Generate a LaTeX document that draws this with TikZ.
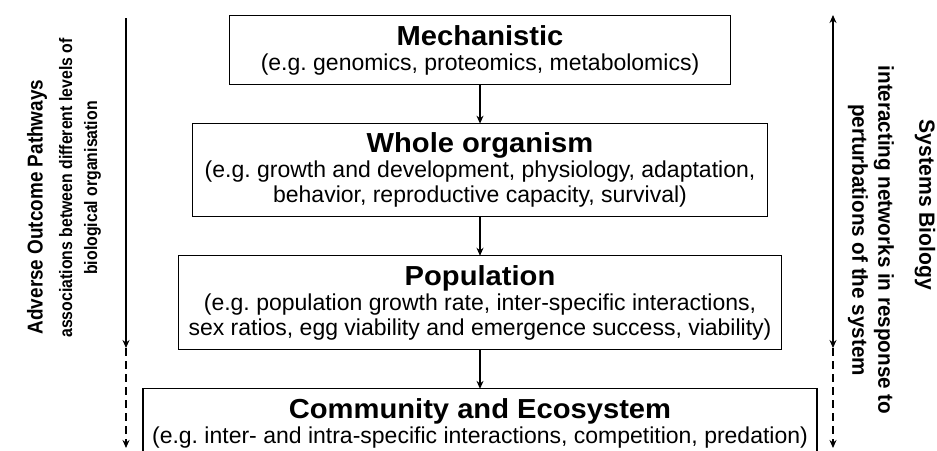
\documentclass[tikz,border=0pt]{standalone}
\usepackage{fontspec}
\setmainfont{Liberation Sans}
\newfontfamily\levelfont{Liberation Sans}[FakeStretch=1.06]
\newfontfamily\aopfont{Liberation Sans}[FakeStretch=0.88]
\newfontfamily\sbfont{Liberation Sans}[FakeStretch=0.96]
\usepackage{tikz}
\usetikzlibrary{shapes,arrows,arrows.meta}
\usepackage{xcolor}
\frenchspacing

\begin{document}
\begin{tikzpicture}[
  x=1pt,y=-1pt,
  every matrix/.style={ampersand replacement=\&,row sep=38pt,inner sep=0pt,outer sep=0pt},
  level/.style={draw,line width=1.1pt,rectangle,inner sep=0pt,align=center,font=\fontsize{23}{25}\selectfont},
  levelToLevel/.style={->,>={Stealth[length=8pt,width=7pt]},line width=1.2pt,black},
  sideAxis/.style={->,>={Stealth[length=8pt,width=7pt]},line width=1.3pt,black},
  sideDashed/.style={->,>={Stealth[length=8pt,width=7pt]},line width=1.3pt,black,dash pattern=on 8pt off 5pt},
  aopTitleStyle/.style={inner sep=0pt,font=\aopfont\fontsize{21.5}{22}\selectfont\bfseries},
  aopTextStyle/.style={inner sep=0pt,align=center,font=\aopfont\fontsize{18}{25}\selectfont\bfseries},
  sbTitleStyle/.style={inner sep=0pt,font=\sbfont\fontsize{22}{22}\selectfont\bfseries},
  sbTextStyle/.style={inner sep=0pt,align=center,font=\sbfont\fontsize{21.5}{26}\selectfont\bfseries},
  every node/.style={align=center}]

  \useasboundingbox (0,0) rectangle (937,450);

  % the four levels, one column
  \matrix (levels) [anchor=north] at (480,15) {
    \node[level,minimum width=501pt,minimum height=69pt] (mMech) {{\levelfont\fontsize{27.5}{29}\selectfont\bfseries Mechanistic}\\ (e.g. genomics, proteomics, metabolomics)}; \\
    \node[level,minimum width=575pt,minimum height=93pt] (mWhole) {{\levelfont\fontsize{27.5}{29}\selectfont\bfseries Whole organism}\\ (e.g. growth and development, physiology, adaptation,\\ behavior, reproductive capacity, survival)}; \\
    \node[level,minimum width=603pt,minimum height=94pt] (mPop) {{\levelfont\fontsize{27.5}{29}\selectfont\bfseries Population}\\ (e.g. population growth rate, inter-specific interactions,\\ sex ratios, egg viability and emergence success, viability)}; \\
    \node[level,minimum width=674pt,minimum height=69pt] (mComm) {{\levelfont\fontsize{27.5}{29}\selectfont\bfseries Community and Ecosystem}\\ (e.g. inter- and intra-specific interactions, competition, predation)}; \\
  };

  % level to level
  \draw [levelToLevel] (mMech) -- (mWhole);
  \draw [levelToLevel] (mWhole) -- (mPop);
  \draw [levelToLevel] (mPop) -- (mComm);

  % side axes
  \coordinate (aopTop) at (126,18);
  \coordinate (aopMid) at (126,348);
  \coordinate (aopEnd) at (126,448);
  \coordinate (sbTop) at (833,15);
  \coordinate (sbMid) at (833,348);
  \coordinate (sbEnd) at (833,448);
  \draw [sideAxis] (aopTop) -- (aopMid);
  \draw [sideDashed] (aopMid) -- (aopEnd);
  \draw [sideAxis,<->] (sbTop) -- (sbMid);
  \draw [sideDashed] (sbMid) -- (sbEnd);

  % side labels
  \node[aopTitleStyle,rotate=90] (aopTitle) at (37,207) {Adverse Outcome Pathways};
  \node[aopTextStyle,rotate=90] (aopText) at (80,188) {associations between different levels of\\ biological organisation};
  \node[sbTitleStyle,rotate=-90] (sbTitle) at (925,205) {Systems Biology};
  \node[sbTextStyle,rotate=-90] (sbText) at (871,240) {interacting networks in response to\\ perturbations of the system};

\end{tikzpicture}
\end{document}
